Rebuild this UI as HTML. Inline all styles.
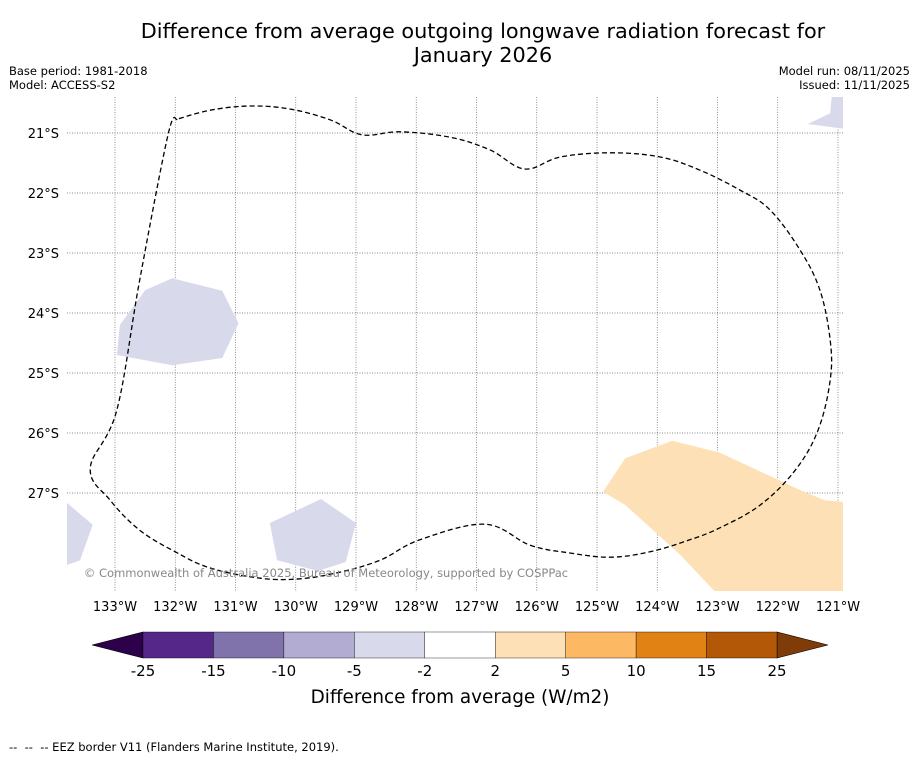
<!DOCTYPE html>
<html><head><meta charset="utf-8">
<style>
html,body{margin:0;padding:0;background:#fff;}
body{width:919px;height:758px;overflow:hidden;font-family:"DejaVu Sans","Liberation Sans",sans-serif;}
svg{display:block;}
</style></head>
<body>
<svg id="chart" width="919" height="758" viewBox="0 0 919 758" font-family="DejaVu Sans, Liberation Sans, sans-serif">
<rect width="919" height="758" fill="#fff"/>
<text x="483" y="38" font-size="20.8" text-anchor="middle">Difference from average outgoing longwave radiation forecast for</text>
<text x="483" y="62" font-size="20.8" text-anchor="middle">January 2026</text>
<text x="9" y="75" font-size="11.5">Base period: 1981-2018</text>
<text x="9" y="89" font-size="11.5">Model: ACCESS-S2</text>
<text x="910" y="75" font-size="11.5" text-anchor="end">Model run: 08/11/2025</text>
<text x="910" y="89" font-size="11.5" text-anchor="end">Issued: 11/11/2025</text>
<defs><clipPath id="plotclip"><rect x="67" y="97" width="776" height="494"/></clipPath></defs>
<g id="grid"></g>
<g id="fills" clip-path="url(#plotclip)"></g>
<g id="eez" clip-path="url(#plotclip)"></g>
<g id="axes"></g>
<text x="326" y="577" font-size="11.5" fill="#888" text-anchor="middle">© Commonwealth of Australia 2025, Bureau of Meteorology, supported by COSPPac</text>
<g id="cbar"></g>
<text x="460" y="703" font-size="18.4" text-anchor="middle">Difference from average (W/m2)</text>
<text x="9" y="751" font-size="11.5" style="white-space:pre" xml:space="preserve">--  --  -- EEZ border V11 (Flanders Marine Institute, 2019).</text>
</svg>
<script>
const lonTicks=[-133,-132,-131,-130,-129,-128,-127,-126,-125,-124,-123,-122,-121];
const latTicks=[-21,-22,-23,-24,-25,-26,-27];
const cbLevels=[-25,-15,-10,-5,-2,2,5,10,15,25];
const cbColors=["#542788","#8073ac","#b2abd2","#d8daeb","#ffffff","#fee0b6","#fdb863","#e08214","#b35806"];
const cbLowColor="#2d004b", cbHighColor="#7f3b08";
const lavLons=[-132.92,-132.50,-132.05,-131.22,-130.95,-131.22,-132.05,-132.97];
const lavLats=[-24.20,-23.62,-23.42,-23.63,-24.17,-24.75,-24.87,-24.70];
const lav2Lons=[-130.43,-129.58,-129.00,-129.17,-129.63,-130.31];
const lav2Lats=[-27.50,-27.10,-27.50,-28.15,-28.30,-28.12];
const lav3Lons=[-133.85,-133.37,-133.58,-133.85];
const lav3Lats=[-27.12,-27.53,-28.12,-28.22];
const lav4Lons=[-121.50,-121.13,-121.10,-120.90,-120.90];
const lav4Lats=[-20.85,-20.67,-20.35,-20.35,-20.93];
const orgLons=[-124.90,-124.53,-123.75,-122.96,-121.63,-121.22,-120.90,-120.90,-122.99,-123.62,-124.53];
const orgLats=[-26.98,-26.42,-26.13,-26.33,-26.95,-27.12,-27.15,-28.70,-28.70,-28.03,-27.20];
const eezLons=[-131.97,-132.12,-132.59,-132.97,-133.41,-133.08,-132.59,-132.00,-131.42,-130.59,-129.93,-129.27,-128.60,-127.94,-126.86,-126.11,-125.45,-124.78,-124.12,-123.46,-122.96,-122.29,-121.71,-121.33,-121.13,-121.13,-121.30,-121.63,-122.13,-122.63,-123.29,-123.95,-124.78,-125.61,-126.20,-126.78,-127.44,-128.27,-128.90,-129.43,-130.10,-130.76,-131.42,-131.97];
const eezLats=[-20.77,-21.03,-23.45,-25.62,-26.58,-27.12,-27.62,-27.98,-28.25,-28.42,-28.43,-28.32,-28.12,-27.78,-27.52,-27.87,-28.00,-28.07,-27.98,-27.78,-27.58,-27.20,-26.62,-25.95,-25.12,-24.45,-23.62,-22.95,-22.28,-21.95,-21.62,-21.40,-21.33,-21.40,-21.60,-21.28,-21.07,-20.98,-21.03,-20.78,-20.60,-20.55,-20.62,-20.77];

const NS="http://www.w3.org/2000/svg";
const X=lon=>115+(lon+133)*60.25;
const Y=lat=>133+(-21-lat)*60;
function mk(tag,attrs,parent){const e=document.createElementNS(NS,tag);for(const k in attrs)e.setAttribute(k,attrs[k]);parent.appendChild(e);return e;}
const grid=document.getElementById('grid'),axes=document.getElementById('axes');
lonTicks.forEach(v=>{
  const l=mk('line',{x1:X(v),x2:X(v),y1:97,y2:591,stroke:'#666','stroke-width':0.7,'stroke-dasharray':'1,1.5'},grid);
  
  
  const t=mk('text',{x:X(v),y:611,'font-size':13,'text-anchor':'middle'},axes);
  t.textContent=Math.abs(v)+'°W';
  
  
});
latTicks.forEach(v=>{
  const l=mk('line',{x1:67,x2:843,y1:Y(v),y2:Y(v),stroke:'#666','stroke-width':0.7,'stroke-dasharray':'1,1.5'},grid);
  
  
  const t=mk('text',{x:59,y:Y(v)+5,'font-size':13,'text-anchor':'end'},axes);
  t.textContent=Math.abs(v)+'°S';
  
  
});
const fills=document.getElementById('fills');
function poly(lons,lats,color,name){
  const p=mk('polygon',{points:lons.map((l,i)=>X(l)+','+Y(lats[i])).join(' '),fill:color},fills);
  
  
}
poly(lavLons,lavLats,'#d8daeb','negative-anomaly-west');
poly(lav2Lons,lav2Lats,'#d8daeb','negative-anomaly-south');
poly(lav3Lons,lav3Lats,'#d8daeb','negative-anomaly-edge');
poly(lav4Lons,lav4Lats,'#d8daeb','negative-anomaly-northeast');
poly(orgLons,orgLats,'#fee0b6','positive-anomaly-southeast');
// smooth EEZ path (Catmull-Rom)
const P=eezLons.map((l,i)=>[X(l),Y(eezLats[i])]);
let d='M'+P[0][0]+','+P[0][1];
for(let i=0;i<P.length-1;i++){
  const p0=P[Math.max(i-1,0)],p1=P[i],p2=P[i+1],p3=P[Math.min(i+2,P.length-1)];
  const t=0.35;
  d+=` C${p1[0]+(p2[0]-p0[0])*t/2},${p1[1]+(p2[1]-p0[1])*t/2} ${p2[0]-(p3[0]-p1[0])*t/2},${p2[1]-(p3[1]-p1[1])*t/2} ${p2[0]},${p2[1]}`;
}
const eez=mk('path',{d:d,fill:'none',stroke:'#000','stroke-width':1.3,'stroke-dasharray':'5,3'},document.getElementById('eez'));


// colorbar
const cb=document.getElementById('cbar');
const cx0=143,cx1=777,cy=632,ch=26,seg=(cx1-cx0)/cbColors.length;
const lt=mk('polygon',{points:`${cx0},${cy} ${cx0},${cy+ch} 92,${cy+ch/2}`,fill:cbLowColor,stroke:'#000','stroke-width':0.6},cb);


const ht=mk('polygon',{points:`${cx1},${cy} ${cx1},${cy+ch} 828,${cy+ch/2}`,fill:cbHighColor,stroke:'#000','stroke-width':0.6},cb);


cbColors.forEach((c,i)=>{
  const r=mk('rect',{x:cx0+i*seg,y:cy,width:seg,height:ch,fill:c,stroke:'#000','stroke-width':0.4},cb);
  
  
});
cbLevels.forEach((v,i)=>{
  const t=mk('text',{x:cx0+i*seg,y:676,'font-size':15,'text-anchor':'middle'},cb);
  t.textContent=v;
  
  
});
</script>
</body></html>
